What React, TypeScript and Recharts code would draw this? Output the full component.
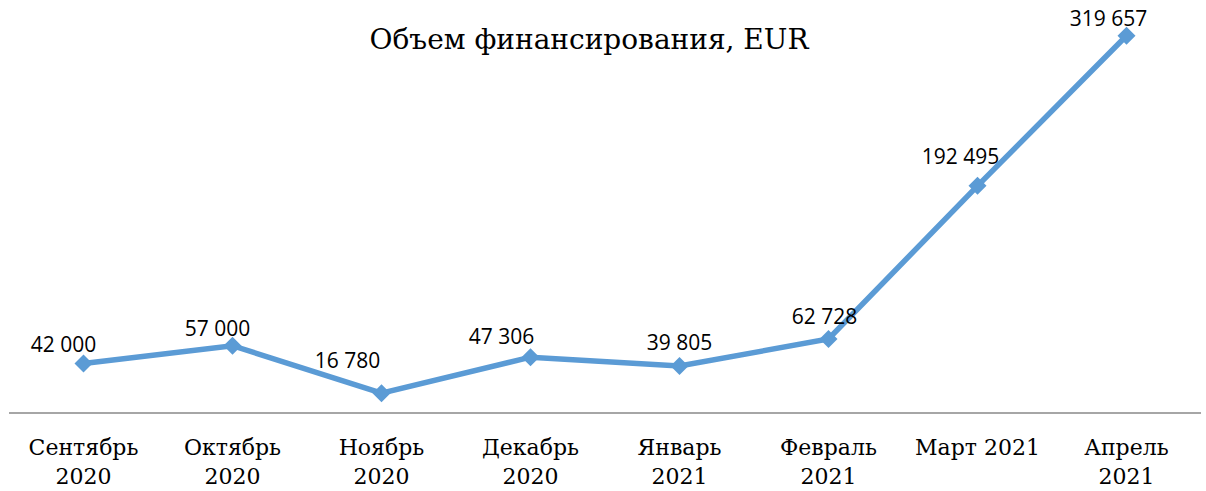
import React from "react";
import { LineChart, Line, XAxis, YAxis, LabelList } from "recharts";

const months = [
  "Сентябрь\n2020",
  "Октябрь\n2020",
  "Ноябрь\n2020",
  "Декабрь\n2020",
  "Январь\n2021",
  "Февраль\n2021",
  "Март 2021",
  "Апрель\n2021",
];
const volumes = [42000, 57000, 16780, 47306, 39805, 62728, 192495, 319657];

// label nudges, to mimic where the original placed each value
const labelDx = [-20, -15, -34, -29, 0, -4, -17, -18];
const labelDy = [-18, -17, -32, -20, -23, -22, -29, -17];

const data = months.map((m, i) => ({ month: m, volume: volumes[i] }));

const BLUE = "#5b9bd5";

const formatValue = (v: number) =>
  String(v).replace(/\B(?=(\d{3})+(?!\d))/g, " ");

const Diamond = (props: any) => {
  const { cx, cy } = props;
  if (cx == null || cy == null) return null;
  const r = 9;
  return (
    <polygon
      points={`${cx},${cy - r} ${cx + r},${cy} ${cx},${cy + r} ${cx - r},${cy}`}
      fill={BLUE}
    />
  );
};

const MonthTick = (props: any) => {
  const { x, y, payload } = props;
  const lines = String(payload.value).split("\n");
  return (
    <text
      x={x}
      y={y}
      textAnchor="middle"
      fontFamily="'DejaVu Serif', serif"
      fontSize={22}
      fill="#000"
    >
      {lines.map((l, i) => (
        <tspan key={i} x={x} y={y + 34 + i * 29}>
          {l}
        </tspan>
      ))}
    </text>
  );
};

const ValueLabel = (props: any) => {
  const { x, y, value, index } = props;
  return (
    <text
      x={x + labelDx[index]}
      y={y + labelDy[index] + 7}
      textAnchor="middle"
      fontFamily="'Open Sans', sans-serif"
      fontSize={21}
      fill="#000"
    >
      {formatValue(value)}
    </text>
  );
};

export default function App() {
  return (
    <div
      style={{
        position: "absolute",
        left: 0,
        top: 0,
        width: 1206,
        height: 491,
        background: "#fff",
      }}
    >
      <div
        style={{
          position: "absolute",
          left: 0,
          top: 22,
          width: 1178,
          textAlign: "center",
          fontFamily: "'DejaVu Serif', serif",
          fontSize: 28,
          color: "#000",
          lineHeight: "36px",
        }}
      >
        Объем финансирования, EUR
      </div>
      <LineChart
        width={1206}
        height={491}
        data={data}
        margin={{ top: 0, right: 5, bottom: 0, left: 9 }}
      >
        <XAxis
          dataKey="month"
          stroke="#898989"
          strokeWidth={1.5}
          tickLine={false}
          interval={0}
          height={78}
          padding={{ left: 74.5, right: 74.5 }}
          tick={<MonthTick />}
        />
        <YAxis hide domain={[0, 350000]} />
        <Line
          type="linear"
          dataKey="volume"
          stroke={BLUE}
          strokeWidth={5.5}
          dot={<Diamond />}
          activeDot={false}
          isAnimationActive={false}
        >
          <LabelList dataKey="volume" content={<ValueLabel />} />
        </Line>
      </LineChart>
    </div>
  );
}
